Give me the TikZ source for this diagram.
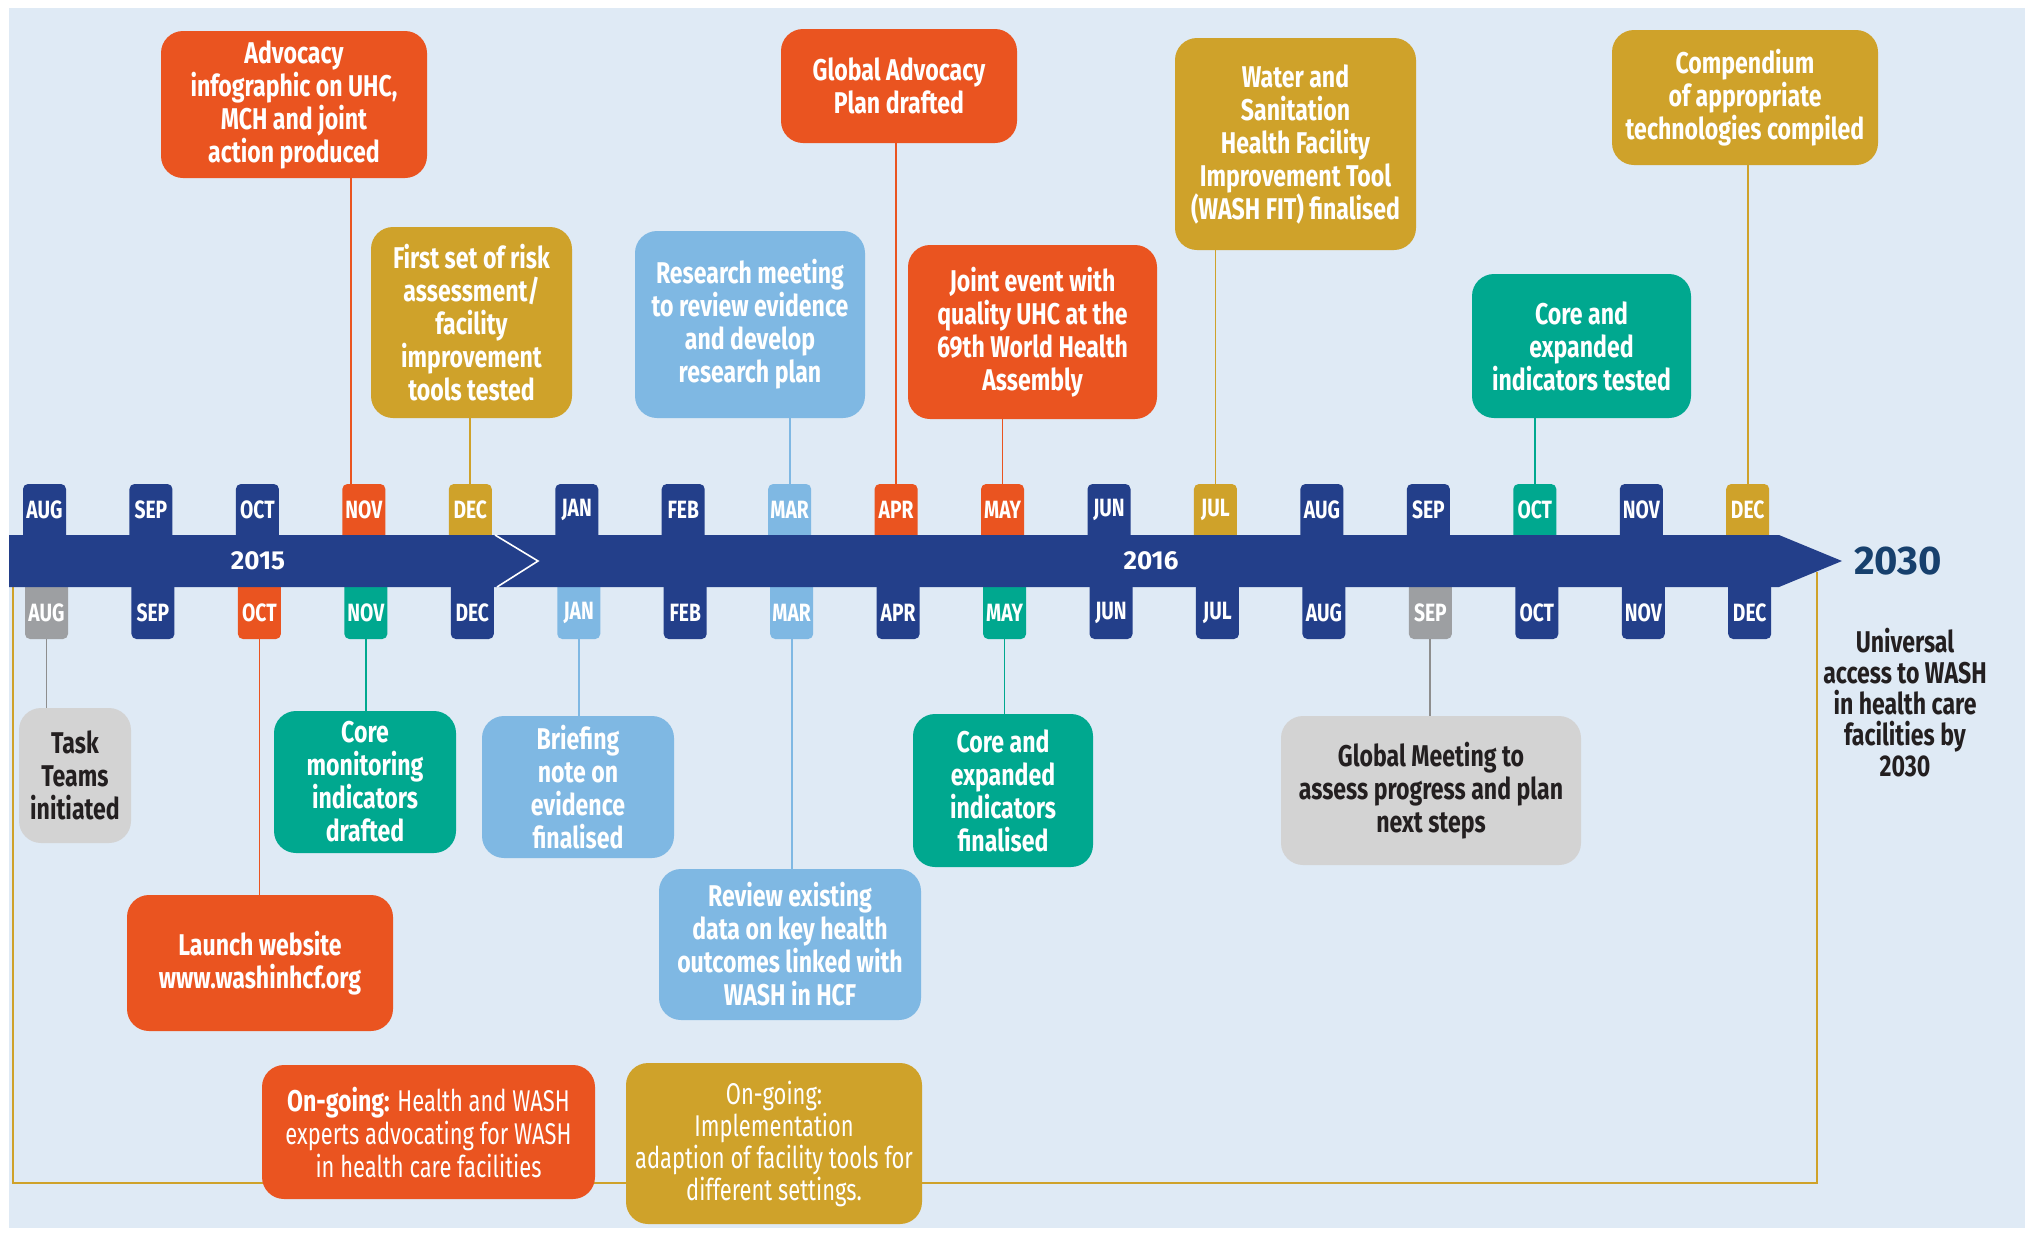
\documentclass[tikz,border=0pt]{standalone}
\usepackage{fontspec}
\setmainfont{Fira Sans}
\newfontfamily\narrowfont{Fira Sans}[FakeStretch=0.73]
\newfontfamily\narrowbold{Fira Sans}[FakeStretch=0.77]
\usetikzlibrary{calc}

\definecolor{bgblue}{HTML}{DFEAF5}
\definecolor{navy}{HTML}{233F8A}
\definecolor{orng}{HTML}{EA5420}
\definecolor{gold}{HTML}{CFA22A}
\definecolor{sky}{HTML}{7FB8E3}
\definecolor{tealg}{HTML}{00A88F}
\definecolor{greybox}{HTML}{D3D3D3}
\definecolor{greytab}{HTML}{9D9FA2}
\definecolor{greyline}{HTML}{8E8E8E}
\definecolor{ink}{HTML}{231F20}
\definecolor{deepblue}{HTML}{17406D}

\newcommand\boxfont{\narrowbold\bfseries\fontsize{15}{16.5}\selectfont}
\newcommand\tabfont{\narrowbold\bfseries\fontsize{12.5}{12.5}\selectfont}

\begin{document}
\begin{tikzpicture}[x=0.5pt,y=-0.5pt,
    box/.style={rounded corners=11pt,align=center,inner sep=0pt,text=white,font=\boxfont},
    monthtab/.style={minimum width=21.5pt,minimum height=25.5pt,inner sep=0pt,text=white,font=\tabfont},
    link/.style={line width=0.9pt}]
  \useasboundingbox (0,0) rectangle (2033,1233);
  \fill[white] (0,0) rectangle (2033,1233);
  \fill[bgblue] (9,8) rectangle (2025,1228);
  % frame round the whole period
  \draw[gold,line width=1.2pt] (13,587) -- (13,1183) -- (1817,1183) -- (1817,572);
  % months above and below the bar
  \foreach \m/\c [count=\i from 0] in {AUG/navy,SEP/navy,OCT/navy,NOV/orng,DEC/gold,JAN/navy,FEB/navy,MAR/sky,APR/orng,MAY/orng,JUN/navy,JUL/gold,AUG/navy,SEP/navy,OCT/tealg,NOV/navy,DEC/gold}{
    \fill[\c,rounded corners=2.5pt] (44.5+106.45*\i-21.5,484) rectangle ++(43,70);
    \node[monthtab] (t\i) at (44.5+106.45*\i,509.5) {\m};
  }
  \foreach \m/\c [count=\i from 0] in {AUG/greytab,SEP/navy,OCT/orng,NOV/tealg,DEC/navy,JAN/sky,FEB/navy,MAR/sky,APR/navy,MAY/tealg,JUN/navy,JUL/navy,AUG/navy,SEP/greytab,OCT/navy,NOV/navy,DEC/navy}{
    \fill[\c,rounded corners=2.5pt] (46.5+106.45*\i-21.5,570) rectangle ++(43,69);
    \node[monthtab,minimum height=26pt] (b\i) at (46.5+106.45*\i,613) {\m};
  }
  % the bar
  \fill[navy] (9,535) -- (1779,535) -- (1842,561) -- (1779,587) -- (9,587) -- cycle;
  \draw[white,line width=0.8pt] (495,535) -- (538,561) -- (497,587);
  \node[text=white,font=\bfseries\fontsize{13}{13}\selectfont] (y15) at (258,561) {2015};
  \node[text=white,font=\bfseries\fontsize{13}{13}\selectfont] (y16) at (1151,561) {2016};
  \node[text=deepblue,font=\bfseries\fontsize{20}{20}\selectfont] (y30) at (1898,561) {2030};
  \node[align=center,text=ink,font=\narrowbold\bfseries\fontsize{15}{15.5}\selectfont] (goal) at (1905,703)
    {Universal\\access to WASH\\in health care\\facilities by\\2030};

  % above the bar
  \node[box,fill=orng,minimum width=133pt,minimum height=73.5pt] (adv) at (294,104.5)
    {Advocacy\\infographic on UHC,\\MCH and joint\\action produced};
  \node[box,fill=gold,minimum width=100.5pt,minimum height=95.5pt] (risk) at (471.5,322.5)
    {First set of risk\\assessment/\\facility\\improvement\\tools tested};
  \node[box,fill=sky,minimum width=115pt,minimum height=93.5pt] (research) at (750,324.5)
    {Research meeting\\to review evidence\\and develop\\research plan};
  \node[box,fill=orng,minimum width=118pt,minimum height=57pt] (gadv) at (899,86)
    {Global Advocacy\\Plan drafted};
  \node[box,fill=orng,minimum width=124.5pt,minimum height=87pt] (joint) at (1032.5,332)
    {Joint event with\\quality UHC at the\\69th World Health\\Assembly};
  \node[box,fill=gold,minimum width=120.5pt,minimum height=106pt] (wfit) at (1295.5,144)
    {Water and\\Sanitation\\Health Facility\\Improvement Tool\\(WASH FIT) finalised};
  \node[box,fill=tealg,minimum width=109.5pt,minimum height=72pt] (coretest) at (1581.5,346)
    {Core and\\expanded\\indicators tested};
  \node[box,fill=gold,minimum width=133pt,minimum height=67.5pt] (comp) at (1745,97.5)
    {Compendium\\of appropriate\\technologies compiled};

  % below the bar
  \node[box,fill=greybox,text=ink,minimum width=56pt,minimum height=67.5pt] (task) at (75,775.5)
    {Task\\Teams\\initiated};
  \node[box,fill=tealg,minimum width=91pt,minimum height=71pt] (coremon) at (365,782)
    {Core\\monitoring\\indicators\\drafted};
  \node[box,fill=orng,minimum width=133pt,minimum height=68pt] (launch) at (260,963)
    {Launch website\\www.washinhcf.org};
  \node[box,fill=sky,minimum width=96pt,minimum height=71pt] (brief) at (578,787)
    {Briefing\\note on\\evidence\\finalised};
  \node[box,fill=sky,minimum width=131pt,minimum height=75.5pt] (review) at (790,944.5)
    {Review existing\\data on key health\\outcomes linked with\\WASH in HCF};
  \node[box,fill=tealg,minimum width=90pt,minimum height=76.5pt] (corefin) at (1003,790.5)
    {Core and\\expanded\\indicators\\finalised};
  \node[box,fill=greybox,text=ink,minimum width=150pt,minimum height=74.5pt] (gmeet) at (1431,790.5)
    {Global Meeting to\\assess progress and plan\\next steps};
  \node[box,fill=orng,minimum width=166.5pt,minimum height=67pt,font=\narrowfont\fontsize{15}{16.5}\selectfont] (ongo1) at (428.5,1132)
    {{\narrowbold\bfseries On-going:} Health and WASH\\experts advocating for WASH\\in health care facilities};
  \node[box,fill=gold,minimum width=148pt,minimum height=80.5pt,font=\narrowfont\fontsize{15}{16}\selectfont] (ongo2) at (774,1143.5)
    {On-going:\\Implementation\\adaption of facility tools for\\different settings.};

  % connectors
  \draw[link,orng] ($(t3.north)+(-6.5pt,0)$) -- ($(t3.north |- adv.south)+(-6.5pt,0)$);
  \draw[link,gold] (t4.north) -- (t4.north |- risk.south);
  \draw[link,sky] (t7.north) -- (t7.north |- research.south);
  \draw[link,orng] (t8.north) -- (t8.north |- gadv.south);
  \draw[link,orng] (t9.north) -- (t9.north |- joint.south);
  \draw[link,gold] (t11.north) -- (t11.north |- wfit.south);
  \draw[link,tealg] (t14.north) -- (t14.north |- coretest.south);
  \draw[link,gold] (t16.north) -- (t16.north |- comp.south);
  \draw[link,greyline] (b0.south) -- (b0.south |- task.north);
  \draw[link,orng] (b2.south) -- (b2.south |- launch.north);
  \draw[link,tealg] (b3.south) -- (b3.south |- coremon.north);
  \draw[link,sky] (b5.south) -- (b5.south |- brief.north);
  \draw[link,sky] (b7.south) -- (b7.south |- review.north);
  \draw[link,tealg] (b9.south) -- (b9.south |- corefin.north);
  \draw[link,greyline] (b13.south) -- (b13.south |- gmeet.north);
\end{tikzpicture}
\end{document}
